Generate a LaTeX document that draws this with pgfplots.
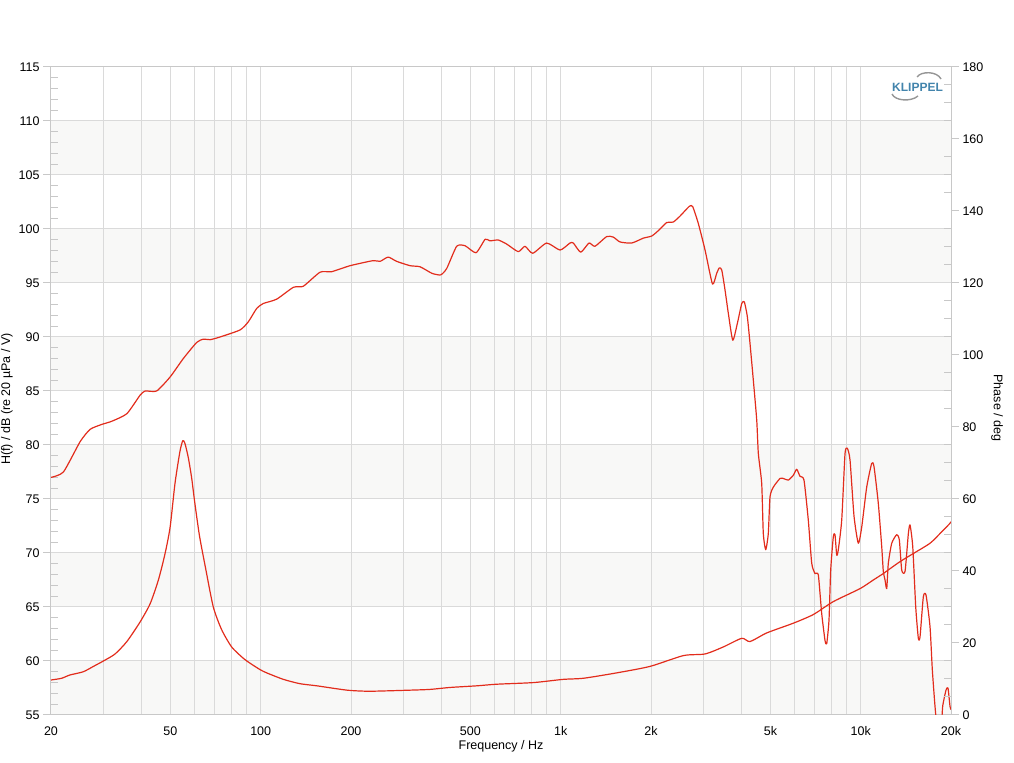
\documentclass[border=0pt]{standalone}
\usepackage{fontspec}
\setmainfont{Liberation Sans}
\usepackage{pgfplots}
\pgfplotsset{compat=1.18}
\definecolor{bandcol}{RGB}{248,248,247}
\definecolor{gridcol}{RGB}{218,218,218}
\definecolor{framecol}{RGB}{200,200,200}
\definecolor{curvecol}{RGB}{226,44,28}
\definecolor{logoblue}{RGB}{66,132,172}
\definecolor{logogray}{RGB}{150,150,150}
\begin{document}
\begin{tikzpicture}[font=\fontsize{12.5}{15}\selectfont]
\begin{axis}[name=ax, set layers,
  width=900pt, height=648pt, scale only axis,
  xmode=log, xmin=20, xmax=20000, ymin=55, ymax=115,
  xtick={20,50,100,200,500,1000,2000,5000,10000,20000},
  xticklabels={20,50,100,200,500,1k,2k,5k,10k,20k},
  minor xtick={30,40,60,70,80,90,300,400,600,700,800,900,3000,4000,6000,7000,8000,9000},
  ytick={55,60,...,115}, minor y tick num=4,
  xmajorgrids, xminorgrids, ymajorgrids,
  grid style={gridcol, line width=1pt},
  major grid style={gridcol, line width=1pt},
  minor grid style={gridcol, line width=1pt},
  axis line style={framecol, line width=1pt},
  ytick pos=left, xtick pos=bottom,
  tick align=outside, major tick length=8pt, minor tick length=7pt,
  major y tick style={framecol, line width=1pt},
  minor y tick style={framecol, line width=1pt, xshift=7pt},
  major x tick style={draw=none}, minor x tick style={draw=none},
  /pgf/number format/assume math mode=true,
  tick label style={black},
]
\addplot[fill=bandcol, draw=none, on layer=axis background, forget plot] coordinates {(20,55) (20000,55) (20000,60) (20,60)} -- cycle;
\addplot[fill=bandcol, draw=none, on layer=axis background, forget plot] coordinates {(20,65) (20000,65) (20000,70) (20,70)} -- cycle;
\addplot[fill=bandcol, draw=none, on layer=axis background, forget plot] coordinates {(20,75) (20000,75) (20000,80) (20,80)} -- cycle;
\addplot[fill=bandcol, draw=none, on layer=axis background, forget plot] coordinates {(20,85) (20000,85) (20000,90) (20,90)} -- cycle;
\addplot[fill=bandcol, draw=none, on layer=axis background, forget plot] coordinates {(20,95) (20000,95) (20000,100) (20,100)} -- cycle;
\addplot[fill=bandcol, draw=none, on layer=axis background, forget plot] coordinates {(20,105) (20000,105) (20000,110) (20,110)} -- cycle;
% SPL curve
\addplot[curvecol, line width=1.2pt, line join=round, smooth, tension=0.35] coordinates {
(20,77.0) (22,77.5) (25,80.3) (27,81.45) (29.5,81.9) (31.9,82.2) (35.8,82.9) (39.6,84.6) (41.2,85.0) (45,85.0) (49.9,86.3) (55.2,88.0) (61.2,89.5) (64.4,89.8) (67.8,89.75) (73.2,90.0) (85.3,90.65) (90.9,91.4) (97,92.65) (102,93.1) (113,93.5) (128.5,94.6) (138.7,94.7) (157.7,96.0) (172.5,96.05) (198.5,96.6) (237,97.07) (250,97.0) (266,97.4) (284,97.0) (315,96.6) (340,96.5) (372,95.9) (398,95.75) (417,96.35) (450,98.4) (480,98.45) (522,97.8) (560,99.05) (581,98.9) (619,98.98) (661,98.6) (722,97.9) (760,98.4) (807,97.75) (898,98.7) (995,98.05) (1074,98.7) (1102,98.7) (1166,97.85) (1243,98.7) (1301,98.4) (1423,99.3) (1497,99.25) (1577,98.8) (1725,98.7) (1885,99.15) (2011,99.35) (2116,99.85) (2256,100.6) (2374,100.65) (2500,101.2) (2684,102.1) (2754,102.07) (2876,100.5) (3028,98.05) (3206,94.9) (3311,95.9) (3379,96.4) (3442,96.2) (3530,94.35) (3620,92.2) (3746,89.7) (3880,91.25) (4013,93.1) (4093,93.25) (4188,91.9) (4276,89.4) (4386,86.0) (4502,82.3) (4558,79.2) (4677,76.45) (4735,71.8) (4824,70.3) (4920,71.8) (4985,75.2) (5113,76.1) (5383,76.9) (5521,76.9) (5738,76.75) (5962,77.2) (6119,77.75) (6276,77.1) (6471,76.75) (6688,73.05) (6866,69.05) (7043,68.1) (7224,67.96) (7413,64.4) (7604,61.9) (7704,61.6) (7841,63.8) (7943,68.4) (8104,71.5) (8209,71.7) (8318,69.8) (8420,70.3) (8644,73.05) (8866,79.2) (9024,79.7) (9213,78.6) (9500,73.4) (9817,70.9) (10078,72.4) (10471,76.1) (10880,78.3) (11074,78.0) (11446,74.6) (11749,70.6) (11894,68.3) (12052,67.5) (12210,66.7) (12360,69.05) (12688,70.9) (13185,71.7) (13452,71.2) (13702,68.4) (14054,68.3) (14415,71.8) (14602,72.6) (14908,70.6) (15255,65.0) (15564,62.1) (15768,62.25) (16173,65.95) (16511,66.1) (17022,63.2) (17326,59.2) (17688,55.8) (18032,53.5) (18524,53.5) (18764,55.8) (19245,57.3) (19544,57.5) (19848,55.8) (20000,55.5)
};
% second curve
\addplot[curvecol, line width=1.2pt, line join=round, smooth, tension=0.4] coordinates {
(20,58.24) (21.7,58.4) (23.1,58.7) (25.6,59.0) (27.7,59.5) (29.9,60.0) (32.7,60.65) (35.8,61.8) (39.6,63.6) (42.8,65.3) (45.6,67.5) (48,69.95) (49.9,72.4) (51.8,76.45) (53.8,79.4) (55,80.4) (55.9,80.15) (57.4,78.8) (58.9,76.9) (60.2,74.8) (62.5,71.6) (65.5,68.6) (69.5,65.0) (74.1,62.9) (80,61.3) (87.5,60.25) (92.1,59.8) (99.5,59.2) (104.7,58.9) (119,58.3) (135,57.9) (154,57.7) (194,57.3) (231,57.2) (315,57.3) (367,57.37) (428,57.55) (525,57.7) (612,57.85) (811,58.0) (1020,58.3) (1190,58.4) (1537,58.9) (1985,59.5) (2564,60.5) (3028,60.65) (3483,61.3) (4013,62.1) (4276,61.8) (4862,62.6) (5962,63.5) (6950,64.3) (8104,65.5) (9948,66.7) (11015,67.5) (11894,68.1) (13521,69.2) (14977,69.95) (17022,70.9) (18382,71.8) (19848,72.75) (20000,72.9)
};
\end{axis}
\begin{axis}[
  width=900pt, height=648pt, scale only axis,
  xmode=log, xmin=20, xmax=20000, ymin=0, ymax=180,
  axis y line*=right, axis x line=none,
  ytick={0,20,...,180}, minor y tick num=3,
  axis line style={framecol, line width=1pt},
  tick align=outside, major tick length=8pt, minor tick length=7pt,
  major y tick style={framecol, line width=1pt},
  minor y tick style={framecol, line width=1pt, xshift=-7pt},
  /pgf/number format/assume math mode=true,
  tick label style={black},
]
\addplot[draw=none, forget plot] coordinates {(20,0) (20000,180)};
\end{axis}
\node[rotate=90] at ([xshift=-44pt, yshift=-8pt]ax.west) {H(f) / dB (re 20 µPa / V)};
\node[rotate=-90] at ([xshift=46pt, yshift=-17pt]ax.east) {Phase / deg};
\node at ([yshift=-31pt]ax.south) {Frequency / Hz};
% logo
\node[logoblue, font=\fontsize{12}{14}\selectfont\bfseries] at ([xshift=-33.5pt, yshift=-20pt]ax.north east) {KLIPPEL};
\draw[logogray, line width=1.4pt] ([xshift=-34pt, yshift=-10pt]ax.north east) .. controls ([xshift=-30pt, yshift=-4pt]ax.north east) and ([xshift=-14pt, yshift=-4pt]ax.north east) .. ([xshift=-10pt, yshift=-12pt]ax.north east);
\draw[logogray, line width=1.4pt] ([xshift=-59pt, yshift=-27pt]ax.north east) .. controls ([xshift=-56pt, yshift=-34pt]ax.north east) and ([xshift=-40pt, yshift=-35pt]ax.north east) .. ([xshift=-33pt, yshift=-29pt]ax.north east);
\pgfresetboundingbox
\path[use as bounding box] ([xshift=-51pt, yshift=-48pt]ax.south west) rectangle ([xshift=63pt, yshift=67pt]ax.north east);
\end{tikzpicture}
\end{document}
